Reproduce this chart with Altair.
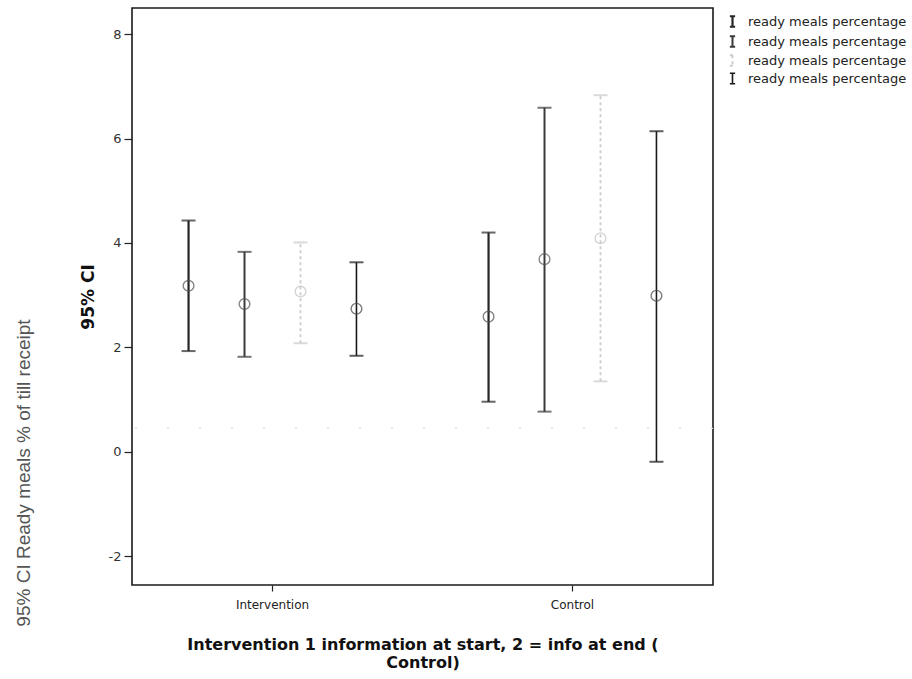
import altair as alt
import pandas as pd

# Groups on the x axis and the four CI series drawn inside each group
groups = ["Intervention", "Control"]
series = ["s1", "s2", "s3", "s4"]
series_label = "ready meals percentage"

# Per series: [Intervention, Control]
means = {
    "s1": [3.18, 2.59],
    "s2": [2.83, 3.69],
    "s3": [3.07, 4.09],
    "s4": [2.74, 2.99],
}
lower = {
    "s1": [1.93, 0.96],
    "s2": [1.82, 0.77],
    "s3": [2.08, 1.35],
    "s4": [1.84, -0.19],
}
upper = {
    "s1": [4.43, 4.20],
    "s2": [3.83, 6.59],
    "s3": [4.01, 6.83],
    "s4": [3.63, 6.14],
}
ref_value = 0.45
y_ticks = [-2, 0, 2, 4, 6, 8]

x_title = ["Intervention 1 information at start, 2 = info at end (", "Control)"]
y_title = "95% CI"
side_label = "95% CI Ready meals % of till receipt"

rows = []
for s in series:
    for i, g in enumerate(groups):
        rows.append({"group": g, "series": s, "mean": means[s][i],
                     "lo": lower[s][i], "hi": upper[s][i]})
df = pd.DataFrame(rows)

line_colors = ["#262626", "#3a3a3a", "#cbcbcb", "#1a1a1a"]
circle_colors = ["#505050", "#555555", "#c4c4c4", "#444444"]
line_widths = [2.2, 1.6, 1.2, 2.2]
line_dashes = [[1, 0], [1, 0], [3, 3], [1, 0]]

W, H = 581, 577

x_enc = alt.X(
    "group:N", sort=groups,
    scale=alt.Scale(range=[-9.5, 590.5], paddingInner=0, paddingOuter=0),
    axis=alt.Axis(
        title=x_title, domain=False, labelAngle=0,
        labelFont="DejaVu Sans", labelFontSize=12, labelColor="#222",
        labelPadding=8, tickSize=6, tickColor="#222", tickWidth=1.2,
        titleFont="DejaVu Sans", titleFontSize=16, titleFontWeight="bold",
        titleColor="#111", titleLineHeight=18, titlePadding=26,
    ),
)
xo_enc = alt.XOffset(
    "series:N", sort=series,
    scale=alt.Scale(paddingInner=0, paddingOuter=0.68),
)
y_scale = alt.Scale(domain=[-2.55, 8.5], nice=False, zero=False)
y_axis = alt.Axis(
    title=y_title, values=y_ticks, grid=False, domain=False,
    labelExpr="replace(datum.label, '\u2212', '-')",
    labelFont="DejaVu Sans", labelFontSize=13, labelColor="#333",
    labelPadding=3, tickSize=8, tickColor="#222", tickWidth=1.2,
    titleFont="DejaVu Sans", titleFontSize=17, titleFontWeight="bold",
    titleColor="#111", titleX=-44, titleBaseline="middle",
)
color_scale = alt.Scale(domain=series, range=line_colors)

base = alt.Chart(df)

bars = base.mark_rule().encode(
    x=x_enc,
    xOffset=xo_enc,
    y=alt.Y("lo:Q", scale=y_scale, axis=y_axis),
    y2="hi:Q",
    color=alt.Color(
        "series:N", scale=color_scale,
        legend=alt.Legend(
            orient="none", legendX=594, legendY=7, title=None,
            labelExpr="'" + series_label + "'",
            symbolType="M-0.5,-1H0.5M0,-1V1M-0.5,1H0.5",
            symbolSize=110, symbolStrokeWidth=1.6,
            labelFont="DejaVu Sans", labelFontSize=13, labelColor="#222",
            labelOffset=9, rowPadding=0, padding=0,
        ),
    ),
    strokeWidth=alt.StrokeWidth(
        "series:N", scale=alt.Scale(domain=series, range=line_widths), legend=None
    ),
    strokeDash=alt.StrokeDash(
        "series:N", scale=alt.Scale(domain=series, range=line_dashes), legend=None
    ),
)

caps_hi = base.mark_tick(size=14, thickness=2).encode(
    x=x_enc, xOffset=xo_enc,
    y=alt.Y("hi:Q", scale=y_scale),
    color=alt.Color("series:N", scale=color_scale, legend=None),
)
caps_lo = base.mark_tick(size=14, thickness=2).encode(
    x=x_enc, xOffset=xo_enc,
    y=alt.Y("lo:Q", scale=y_scale),
    color=alt.Color("series:N", scale=color_scale, legend=None),
)

centers = base.mark_point(shape="circle", filled=False, size=115, strokeWidth=1.4).encode(
    x=x_enc, xOffset=xo_enc,
    y=alt.Y("mean:Q", scale=y_scale),
    stroke=alt.Stroke(
        "series:N", scale=alt.Scale(domain=series, range=circle_colors), legend=None
    ),
)

ref = alt.Chart(pd.DataFrame({"v": [ref_value]})).mark_rule(
    color="#d9d9d9", strokeWidth=1.2, strokeDash=[2, 30]
).encode(y=alt.Y("v:Q", scale=y_scale))

side = alt.Chart(pd.DataFrame({"t": [side_label]})).mark_text(
    angle=270, font="Liberation Sans", fontSize=19, color="#555",
    align="center", baseline="middle",
).encode(text="t:N", x=alt.value(-108), y=alt.value(465))

chart = (
    alt.layer(ref, bars, caps_hi, caps_lo, centers, side)
    .resolve_scale(stroke="independent")
    .properties(
        width=W, height=H,
        autosize=alt.AutoSizeParams(type="none"),
        padding={"left": 132, "top": 8, "right": 199, "bottom": 94},
        background="white",
    )
    .configure_view(stroke="#1a1a1a", strokeWidth=1.6)
)

chart.save("out.html", embed_options={"renderer": "svg", "actions": False})
